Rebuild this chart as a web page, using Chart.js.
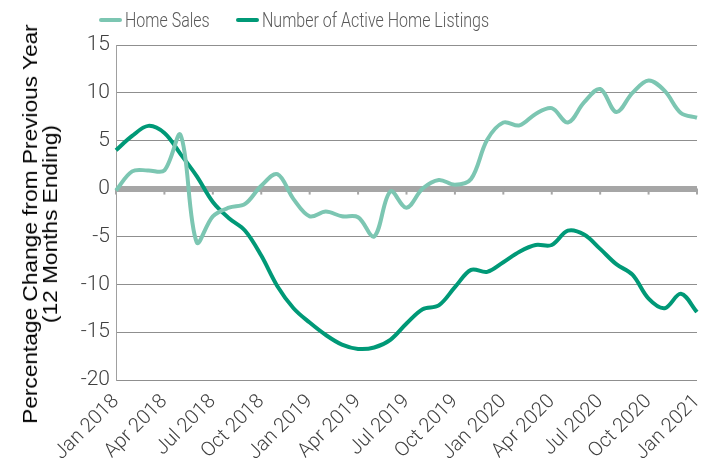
<!DOCTYPE html>
<html>
<head>
<meta charset="utf-8">
<script src="https://cdn.jsdelivr.net/npm/chart.js@4.4.1/dist/chart.umd.min.js"></script>
<style>
  html, body { margin: 0; padding: 0; background: #fff; }
  #wrap { position: relative; width: 718px; height: 474px; }
  .item { position: absolute; top: 8px; height: 24px; display: flex; align-items: center; font-family: Roboto, "Liberation Sans", sans-serif; font-weight: 300; font-size: 20px; color: #595959; white-space: nowrap; }
  .swatch { width: 23px; height: 4px; border-radius: 2px; margin-right: 3px; }
  .label { display: inline-block; transform: scaleX(0.8); transform-origin: left center; }
  #ytitle { position: absolute; left: 40px; top: 224px; white-space: nowrap; text-align: center;
            font-family: "Liberation Sans", Arial, sans-serif; font-size: 21px; line-height: 20px; color: #000;
            transform: translate(-50%, -50%) rotate(-90deg) scaleX(1.08); }
</style>
</head>
<body>
<div id="wrap">
  <canvas id="chart" width="718" height="474"></canvas>
  <div id="legend"></div>
  <div id="ytitle"></div>
</div>
<script>
// Monthly points, Jan 2018 to Jan 2021
const months = [
  "Jan 2018", "Feb 2018", "Mar 2018", "Apr 2018", "May 2018", "Jun 2018",
  "Jul 2018", "Aug 2018", "Sep 2018", "Oct 2018", "Nov 2018", "Dec 2018",
  "Jan 2019", "Feb 2019", "Mar 2019", "Apr 2019", "May 2019", "Jun 2019",
  "Jul 2019", "Aug 2019", "Sep 2019", "Oct 2019", "Nov 2019", "Dec 2019",
  "Jan 2020", "Feb 2020", "Mar 2020", "Apr 2020", "May 2020", "Jun 2020",
  "Jul 2020", "Aug 2020", "Sep 2020", "Oct 2020", "Nov 2020", "Dec 2020",
  "Jan 2021"
];

// Labels shown on the x axis (every third month)
const tickLabels = [
  "Jan 2018", "Apr 2018", "Jul 2018", "Oct 2018", "Jan 2019", "Apr 2019",
  "Jul 2019", "Oct 2019", "Jan 2020", "Apr 2020", "Jul 2020", "Oct 2020", "Jan 2021"
];

const homeSales = [
  -0.2, 1.8, 1.9, 1.9, 5.6, -5.6, -2.9, -2.0, -1.6, 0.3, 1.5, -1.1,
  -2.9, -2.4, -2.9, -3.0, -5.0, -0.3, -2.0, 0.0, 0.9, 0.4, 1.0, 5.1,
  6.9, 6.6, 7.8, 8.4, 6.9, 9.0, 10.4, 8.0, 10.0, 11.3, 10.2, 7.9, 7.4
];

const activeListings = [
  4.0, 5.5, 6.55, 5.8, 3.6, 1.3, -1.4, -3.1, -4.4, -7.0, -10.2, -12.5,
  -14.0, -15.3, -16.3, -16.75, -16.6, -15.8, -14.1, -12.6, -12.2, -10.3, -8.5, -8.7,
  -7.7, -6.6, -5.9, -5.9, -4.4, -4.8, -6.3, -7.9, -9.0, -11.5, -12.5, -11.0, -12.9
];

const yTicks = [15, 10, 5, 0, -5, -10, -15, -20];
const yTitle = ["Percentage Change from Previous Year", "(12 Months Ending)"];

const seriesNames = ["Home Sales", "Number of Active Home Listings"];
const seriesColors = ["#7cc6b2", "#009977"];
const legendLeft = [99, 236];

// Small tick marks hanging off the zero line at each labelled month
const zeroTicks = {
  id: "zeroTicks",
  beforeDatasetsDraw(chart) {
    const { ctx, scales: { x, y } } = chart;
    const y0 = y.getPixelForValue(0);
    ctx.save();
    ctx.strokeStyle = "#a6a6a6";
    ctx.lineWidth = 2;
    months.forEach((m, i) => {
      if (tickLabels.includes(m)) {
        const px = x.getPixelForValue(i);
        ctx.beginPath();
        ctx.moveTo(px, y0);
        ctx.lineTo(px, y0 + 6);
        ctx.stroke();
      }
    });
    ctx.restore();
  }
};

const legend = document.getElementById("legend");
seriesNames.forEach((name, i) => {
  const item = document.createElement("div");
  item.className = "item";
  item.style.left = legendLeft[i] + "px";
  item.innerHTML = `<span class="swatch" style="background:${seriesColors[i]}"></span><span class="label">${name}</span>`;
  legend.appendChild(item);
});

// Axis title as rotated text beside the chart
document.getElementById("ytitle").innerHTML = yTitle.join("<br>");

const ctx = document.getElementById("chart").getContext("2d");

new Chart(ctx, {
  type: "line",
  data: {
    labels: months,
    datasets: [
      {
        label: seriesNames[0],
        data: homeSales,
        borderColor: seriesColors[0],
        borderWidth: 4,
        pointRadius: 0,
        tension: 0.35,
      },
      {
        label: seriesNames[1],
        data: activeListings,
        borderColor: seriesColors[1],
        borderWidth: 4,
        pointRadius: 0,
        tension: 0.35,
      },
    ],
  },
  options: {
    responsive: false,
    animation: false,
    layout: { padding: { top: 45, right: 21, left: 0, bottom: 0 } },
    plugins: {
      legend: { display: false },
      tooltip: { enabled: false },
    },
    scales: {
      x: {
        offset: false,
        grid: { display: false },
        border: { display: false },
        ticks: {
          autoSkip: false,
          minRotation: 45,
          maxRotation: 45,
          padding: 2,
          color: "#404040",
          font: { family: "Roboto, 'Liberation Sans', sans-serif", size: 20, weight: 300 },
          callback: (v, i) => tickLabels.includes(months[i]) ? months[i] : "",
        },
        afterFit: (scale) => { scale.height = 474 - 380; },
      },
      y: {
        min: -20,
        max: 15,
        afterBuildTicks: (scale) => { scale.ticks = yTicks.map(v => ({ value: v })); },
        grid: {
          drawTicks: false,
          color: (c) => c.tick && c.tick.value === 0 ? "#a6a6a6" : "#8f8f8f",
          lineWidth: (c) => c.tick && c.tick.value === 0 ? 6 : 1,
        },
        border: { display: true, color: "#a0a0a0", width: 1 },
        ticks: {
          padding: 6,
          color: "#404040",
          font: { family: "Roboto, 'Liberation Sans', sans-serif", size: 21, weight: 300 },
        },
        afterFit: (scale) => { scale.width = 116; },
      },
    },
  },
  plugins: [zeroTicks],
});
</script>
</body>
</html>
